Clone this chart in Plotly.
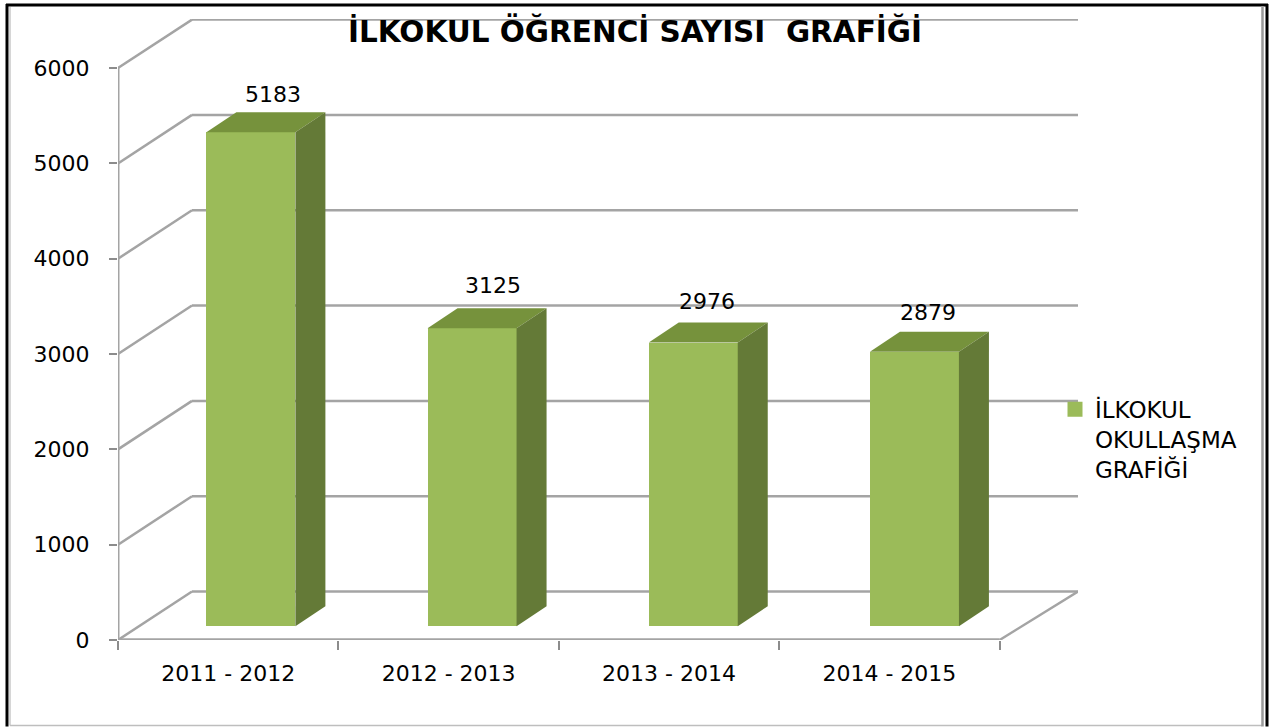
import plotly.graph_objects as go

# data
categories = ["2011 - 2012", "2012 - 2013", "2013 - 2014", "2014 - 2015"]
values = [5183, 3125, 2976, 2879]
series_name = "İLKOKUL<br>OKULLAŞMA<br>GRAFİĞİ"
title_text = "<b>İLKOKUL ÖĞRENCİ SAYISI  GRAFİĞİ</b>"
y_ticks = [0, 1000, 2000, 3000, 4000, 5000, 6000]

# geometry (pixels to axis units)
W, H = 1269, 727
L, R, T, B = 118, 1078, 19, 640.5
X_UNIT = 220.4
Y_UNIT = 0.0954
X_END = (R - L) / X_UNIT
WALL_DX = 74 / X_UNIT
WALL_DY = 48.5 / Y_UNIT
BAR_BASE = 13.8 / Y_UNIT
BAR_DX = 30 / X_UNIT
BAR_DY = 20 / Y_UNIT
BAR_W = 89 / X_UNIT
BAR_SHIFT = 0.603
BAR_STEP = 1.0035
label_nudge = [(22, 18), (21, 23), (14, 21), (14, 19)]

FONT = "DejaVu Sans"
GREY = "#A4A4A4"
FRONT, TOP, SIDE = "#9BBB59", "#76923C", "#647A37"

n = len(categories)
xs = [i * BAR_STEP + BAR_SHIFT for i in range(n)]
fig = go.Figure()

fig.add_trace(go.Bar(x=xs, y=values, base=BAR_BASE, width=BAR_W, name=series_name,
                     marker=dict(color=FRONT, line=dict(width=0)), showlegend=False, hoverinfo="skip"))

for x, v in zip(xs, values):
    x0, x1 = x - BAR_W / 2, x + BAR_W / 2
    t = v + BAR_BASE
    fig.add_trace(go.Scatter(x=[x0, x1, x1 + BAR_DX, x0 + BAR_DX, x0], y=[t, t, t + BAR_DY, t + BAR_DY, t],
                             mode="lines", fill="toself", fillcolor=TOP, line=dict(width=0),
                             showlegend=False, hoverinfo="skip"))
    fig.add_trace(go.Scatter(x=[x1, x1 + BAR_DX, x1 + BAR_DX, x1, x1],
                             y=[BAR_BASE, BAR_BASE + BAR_DY, t + BAR_DY, t, BAR_BASE],
                             mode="lines", fill="toself", fillcolor=SIDE, line=dict(width=0),
                             showlegend=False, hoverinfo="skip"))

# legend entry for the series, with a swatch of the reference's size
fig.add_trace(go.Scatter(x=[None], y=[None], mode="markers", name=series_name,
                         marker=dict(symbol="square", size=15, color=FRONT), hoverinfo="skip"))

shapes = []
def seg(x0, y0, x1, y1, width=2.5):
    shapes.append(dict(type="line", xref="x", yref="y", x0=x0, y0=y0, x1=x1, y1=y1,
                       layer="below", line=dict(color=GREY, width=width)))

for v in y_ticks:
    seg(0, v, WALL_DX, v + WALL_DY)
    seg(WALL_DX, v + WALL_DY, X_END, v + WALL_DY)
seg(0, 0, 0, y_ticks[-1], 3)
seg(0, 0, n, 0, 3.5)
seg(n, 0, X_END, WALL_DY)

# outer frame
def px(x): return (x - L) / (R - L)
def py(y): return (B - y) / (B - T)
def frame(x0, y0, x1, y1, color, width):
    shapes.append(dict(type="line", xref="paper", yref="paper", x0=px(x0), y0=py(y0), x1=px(x1), y1=py(y1),
                       layer="above", line=dict(color=color, width=width)))
frame(6, 5, 1268, 5, "#000000", 3)
frame(7, 4, 7, H, "#000000", 3)
frame(1267, 4, 1267, H, "#000000", 3)
frame(10, 7, 10, 726, "#C8C8C8", 1.5)
frame(10, 726, 1262, 726, "#BEBEBE", 1.5)
frame(1262.5, 6, 1262.5, H, "#999999", 2.5)

annotations = [dict(x=x, y=v + BAR_BASE + BAR_DY, xref="x", yref="y", text=str(v), showarrow=False,
                    xshift=nx, yshift=ny, xanchor="center", yanchor="middle",
                    font=dict(family=FONT, size=22, color="#000000"))
               for x, v, (nx, ny) in zip(xs, values, label_nudge)]

fig.update_layout(
    width=W, height=H, autosize=False,
    margin=dict(l=L, r=W - R, t=T, b=H - B, pad=0),
    paper_bgcolor="white", plot_bgcolor="rgba(0,0,0,0)",
    font=dict(family=FONT, size=22, color="#000000"),
    title=dict(text=title_text, x=635 / W, xanchor="center", xref="container",
               y=1 - 31.5 / H, yanchor="middle", yref="container",
               font=dict(family=FONT, size=29.5, color="#000000")),
    xaxis=dict(range=[0, X_END], tickmode="array", tickvals=[i + 0.5 for i in range(n)],
               ticktext=categories, ticks="", showgrid=False, zeroline=False, showline=False,
               ticklabelstandoff=18, fixedrange=True,
               minor=dict(tickmode="array", tickvals=list(range(n + 1)), ticks="outside", ticklen=9,
                          tickwidth=2, tickcolor="#8C8C8C", showgrid=False)),
    yaxis=dict(range=[0, (B - T) / Y_UNIT], tickmode="array", tickvals=y_ticks, ticks="outside", ticklen=8,
               tickwidth=2, tickcolor="#8C8C8C", showgrid=False, zeroline=False, showline=False,
               ticklabelstandoff=15, fixedrange=True),
    legend=dict(x=(1055 - L) / (R - L), y=(B - 388) / (B - T), xanchor="left", yanchor="top", valign="top",
                bgcolor="rgba(0,0,0,0)", font=dict(family=FONT, size=23), itemwidth=30),
    shapes=shapes, annotations=annotations, bargap=0,
)
fig.write_html("out.html", post_script="document.body.style.margin='0';", config={"displayModeBar": False})
